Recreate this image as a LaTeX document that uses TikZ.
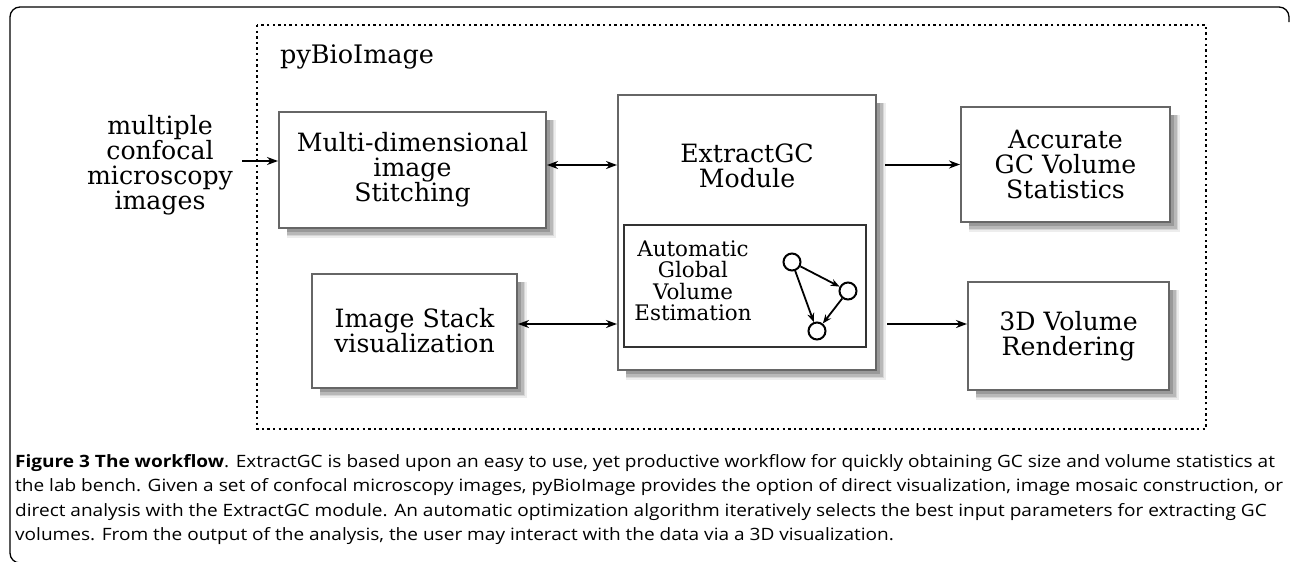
\documentclass[tikz,border=0pt]{standalone}
\usepackage{graphicx}
\usepackage{fontspec}
\setmainfont{DejaVu Serif}
\newfontfamily\capfont{Open Sans}
\usetikzlibrary{arrows.meta}
\begin{document}
\begin{tikzpicture}[x=1pt,y=-1pt,
  box/.style={draw=black!60,line width=2pt,fill=white,inner sep=0pt,align=center,
    font=\fontsize{25.2}{25}\selectfont},
  txt/.style={inner sep=0pt,align=center,font=\fontsize{25.2}{25}\selectfont},
  arr/.style={line width=2pt,-{Stealth[length=11pt,width=8pt]}},
  darr/.style={line width=2pt,{Stealth[length=11pt,width=8pt]}-{Stealth[length=11pt,width=8pt]}},
  gnode/.style={circle,draw=black,fill=white,line width=2pt,minimum size=17pt,inner sep=0pt},
  garr/.style={line width=1.8pt,-{Stealth[length=9pt,width=7pt]}},
  shA/.style={draw=black!7,line width=12pt,line join=miter},
  shB/.style={draw=black!16,line width=9pt,line join=miter},
  shC/.style={draw=black!28,line width=7pt,line join=miter},
  shD/.style={draw=black!40,line width=4pt,line join=miter},
  capline/.style={anchor=base west,inner sep=0pt,font=\capfont\fontsize{17}{20}\selectfont}]
\useasboundingbox (0,0) rectangle (1290,562);
% outer frame
\draw[line width=1.3pt,rounded corners=10pt] (1289,22) -- (1289,7) -- (10,7) -- (10,563) -- (60,563);
% dotted frame
\draw[line width=2.6pt,dash pattern=on 2.4pt off 3.2pt] (257,25) rectangle (1206,429);
\node[anchor=base west,inner sep=0pt,font=\fontsize{25.5}{25}\selectfont] (py) at (280,63) {pyBioImage};
% soft drop shadows as stroked bands along the right and bottom sides
\path[shA] (546+4,112+8) -- (546+4,228+4) -- (279+8,228+4);
\path[shB] (546+3.5,112+8) -- (546+3.5,228+3.5) -- (279+8,228+3.5);
\path[shC] (546+3,112+8) -- (546+3,228+3) -- (279+8,228+3);
\path[shD] (546+2,112+8) -- (546+2,228+2) -- (279+8,228+2);
\path[shA] (517+4,274+8) -- (517+4,388+4) -- (312+8,388+4);
\path[shB] (517+3.5,274+8) -- (517+3.5,388+3.5) -- (312+8,388+3.5);
\path[shC] (517+3,274+8) -- (517+3,388+3) -- (312+8,388+3);
\path[shD] (517+2,274+8) -- (517+2,388+2) -- (312+8,388+2);
\path[shA] (876+4,95+8) -- (876+4,370+4) -- (618+8,370+4);
\path[shB] (876+3.5,95+8) -- (876+3.5,370+3.5) -- (618+8,370+3.5);
\path[shC] (876+3,95+8) -- (876+3,370+3) -- (618+8,370+3);
\path[shD] (876+2,95+8) -- (876+2,370+2) -- (618+8,370+2);
\path[shA] (1170+4,107+8) -- (1170+4,222+4) -- (961+8,222+4);
\path[shB] (1170+3.5,107+8) -- (1170+3.5,222+3.5) -- (961+8,222+3.5);
\path[shC] (1170+3,107+8) -- (1170+3,222+3) -- (961+8,222+3);
\path[shD] (1170+2,107+8) -- (1170+2,222+2) -- (961+8,222+2);
\path[shA] (1169+4,282+8) -- (1169+4,390+4) -- (968+8,390+4);
\path[shB] (1169+3.5,282+8) -- (1169+3.5,390+3.5) -- (968+8,390+3.5);
\path[shC] (1169+3,282+8) -- (1169+3,390+3) -- (968+8,390+3);
\path[shD] (1169+2,282+8) -- (1169+2,390+2) -- (968+8,390+2);
% boxes
\node[box,minimum width=267pt,minimum height=116pt] (multi) at (412.5,170) {Multi-dimensional\\image\\Stitching};
\node[box,minimum width=205pt,minimum height=114pt] (stack) at (414.5,331) {Image Stack\\visualization};
\node[box,minimum width=258pt,minimum height=275pt] (extract) at (747,232.5) {};
\node[box,minimum width=209pt,minimum height=115pt] (acc) at (1065.5,164.5) {Accurate\\GC Volume\\Statistics};
\node[box,minimum width=201pt,minimum height=108pt] (render) at (1068.5,336) {3D Volume\\Rendering};
\node[txt] (extlbl) at (747,166) {ExtractGC\\Module};
\node[draw=black!80,line width=1.3pt,minimum width=242pt,minimum height=122pt,inner sep=0pt] (inner) at (745,286) {};
\node[txt,font=\fontsize{21.4}{21.5}\selectfont] (auto) at (693,281) {Automatic\\Global\\Volume\\Estimation};
\node[gnode] (c1) at (792,262) {};
\node[gnode] (c2) at (848,291) {};
\node[gnode] (c3) at (817,331) {};
\draw[garr] (c1) -- (c2);
\draw[garr] (c1) -- (c3);
\draw[garr] (c2) -- (c3);
% input
\node[txt] (input) at (160,165) {multiple\\confocal\\microscopy\\images};
% connectors
\draw[arr] ([shift={(9,-4)}]input.east) coordinate (a0) -- (a0 -| multi.west);
\draw[darr] ([yshift=5pt]multi.east) coordinate (a1) -- (a1 -| extract.west);
\draw[darr] ([yshift=7pt]stack.east) coordinate (a2) -- (a2 -| extract.west);
\draw[arr] ([xshift=8pt]extract.east |- acc.west) -- (acc.west);
\draw[arr] ([yshift=12pt]render.west -| extract.east) ++(10,0) coordinate (a3) -- (a3 -| render.west);
% caption
\node[capline] (cap1) at (15,467) {\scalebox{1.12}[1]{\textbf{Figure 3 The workflow}. ExtractGC is based upon an easy to use, yet productive workflow for quickly obtaining GC size and volume statistics at}};
\node[capline] (cap2) at (15,491.5) {\scalebox{1.12}[1]{the lab bench. Given a set of confocal microscopy images, pyBioImage provides the option of direct visualization, image mosaic construction, or}};
\node[capline] (cap3) at (15,516) {\scalebox{1.12}[1]{direct analysis with the ExtractGC module. An automatic optimization algorithm iteratively selects the best input parameters for extracting GC}};
\node[capline] (cap4) at (15,540) {\scalebox{1.12}[1]{volumes. From the output of the analysis, the user may interact with the data via a 3D visualization.}};
\end{tikzpicture}
\end{document}
